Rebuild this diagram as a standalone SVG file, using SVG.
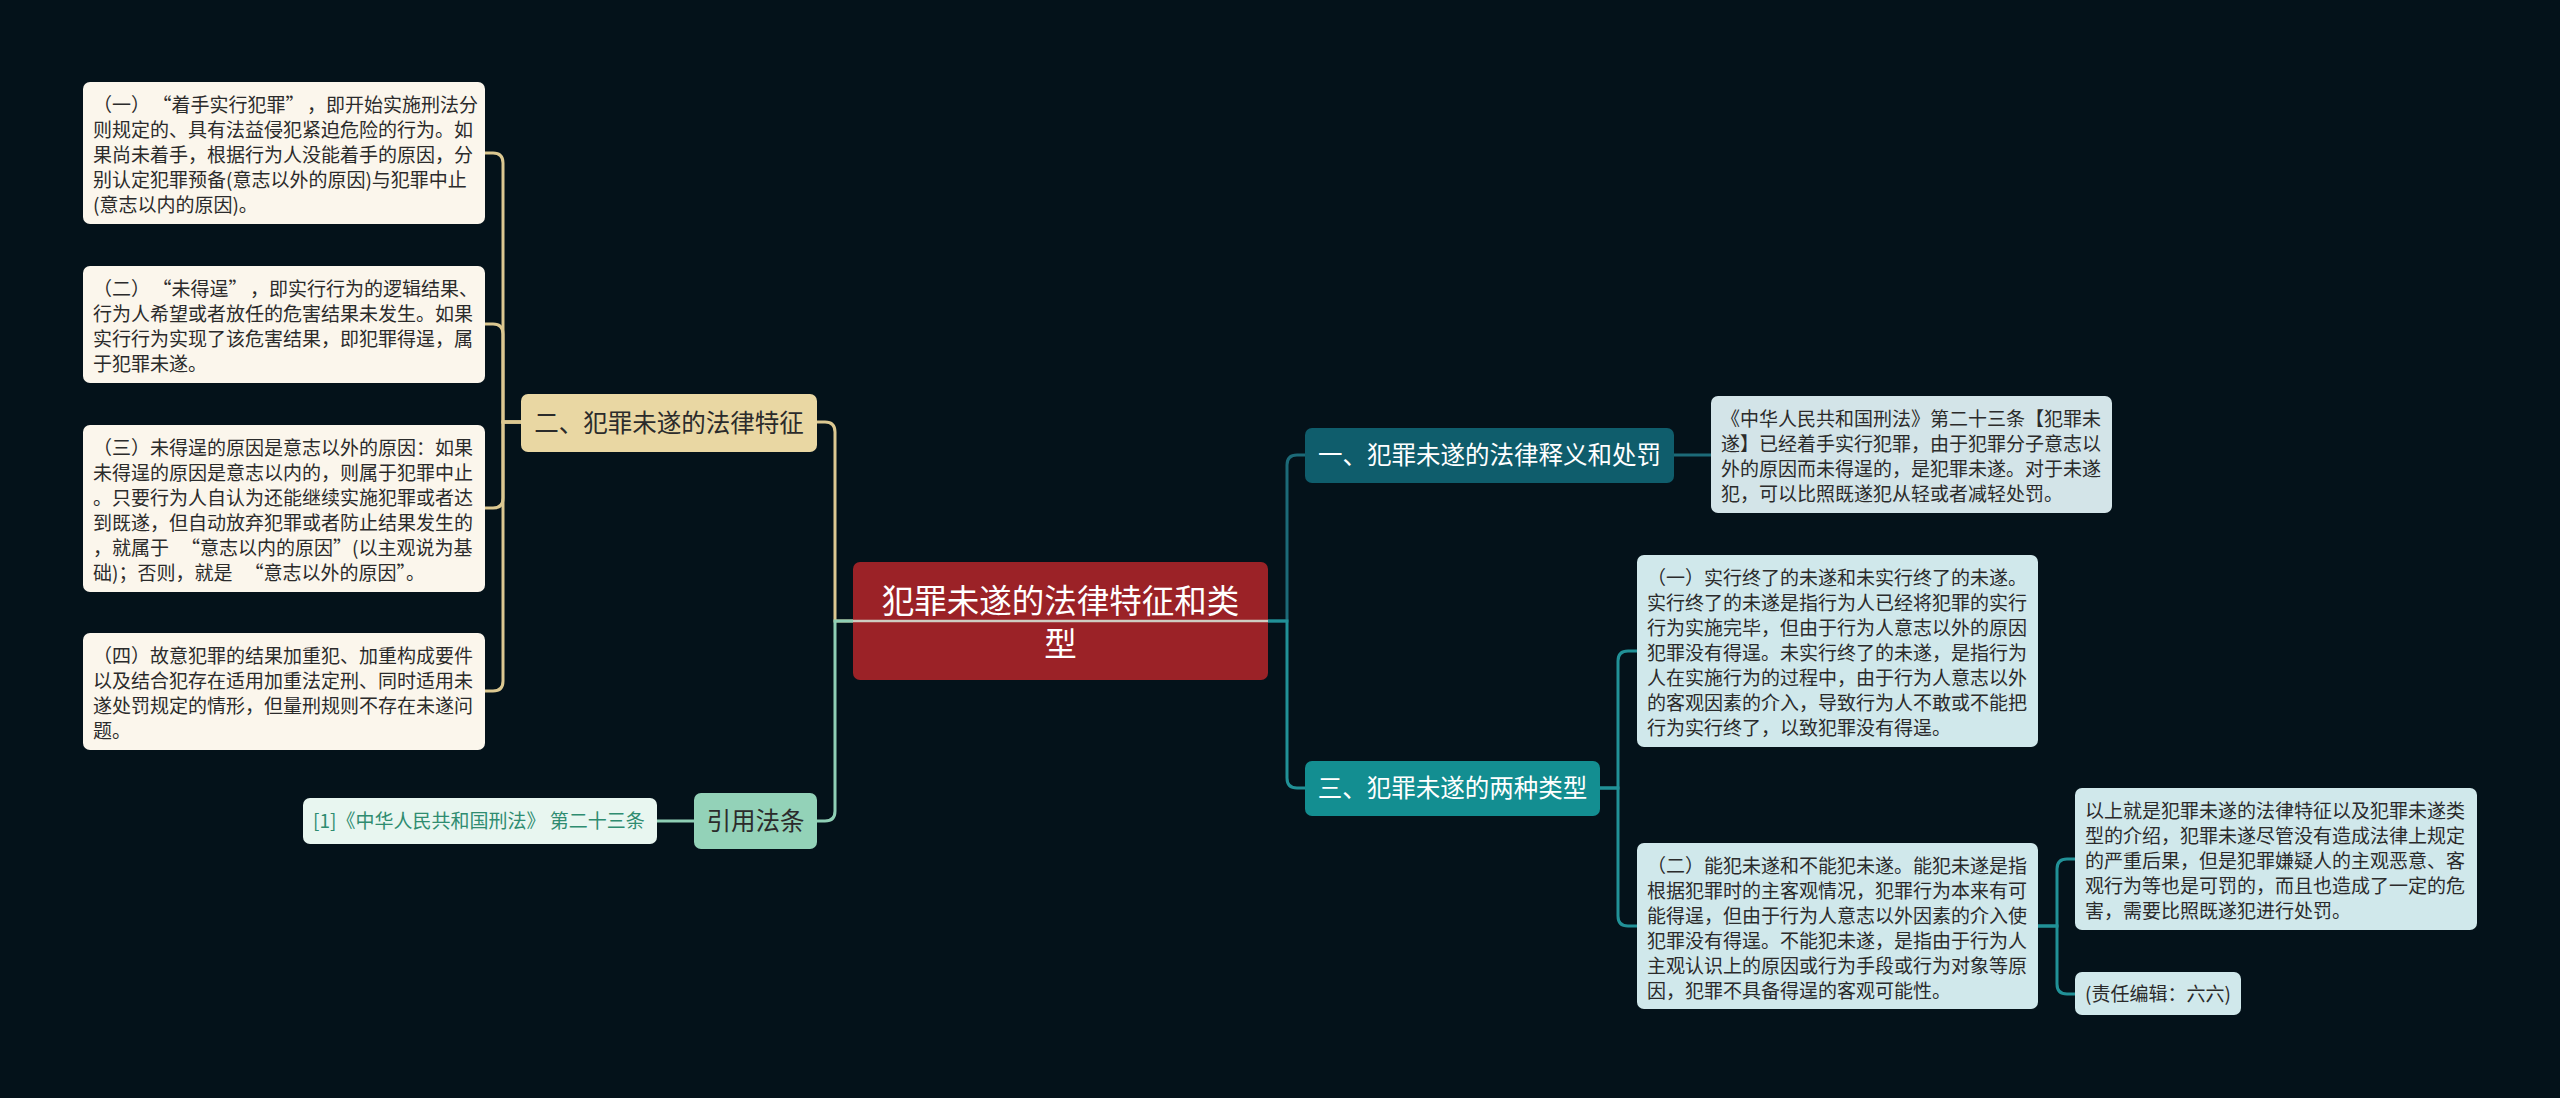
<svg xmlns="http://www.w3.org/2000/svg" width="2560" height="1098" viewBox="0 0 2560 1098">
<style>
text{font-family:"Noto Sans CJK SC","Noto Sans",sans-serif}
.lt{font-size:19px;fill:#2b2b2b}
.nt{font-size:24.5px;text-anchor:middle}
.cl{fill:#fbf6ec}
.cr{fill:#d0e8eb}
.c{fill:none;stroke-width:3;stroke-linecap:round}
.beige{stroke:#dcc891}
.mint{stroke:#8fcfb5}
.tdark{stroke:#1c6a78}
.teal{stroke:#219197}
</style>
<rect width="2560" height="1098" fill="#04121a"/>

<g id="connectors">
<path class="c beige" d="M521 422 H503 V163 Q503 153 493 153 H485"/>
<path class="c beige" d="M521 422 H503 V334 Q503 324 493 324 H485"/>
<path class="c beige" d="M521 422 H503 V498 Q503 508 493 508 H485"/>
<path class="c beige" d="M521 422 H503 V681 Q503 691 493 691 H485"/>
<path class="c beige" d="M853 621 H835 V432 Q835 422 825 422 H817"/>
<path class="c mint" d="M853 621 H835 V811 Q835 821 825 821 H817"/>
<path class="c mint" d="M694 821 H657"/>
<path class="c tdark" d="M1268 621 H1287 V465 Q1287 455 1297 455 H1305"/>
<path class="c teal" d="M1268 621 H1287 V778 Q1287 788 1297 788 H1305"/>
<path class="c tdark" d="M1674 455 H1711"/>
<path class="c teal" d="M1600 788 H1618 V661 Q1618 651 1628 651 H1637"/>
<path class="c teal" d="M1600 788 H1618 V916 Q1618 926 1628 926 H1637"/>
<path class="c teal" d="M2038 926 H2057 V869 Q2057 859 2067 859 H2075"/>
<path class="c teal" d="M2038 926 H2057 V984 Q2057 994 2067 994 H2075"/>
</g>

<g id="center">
<rect x="853" y="562" width="415" height="118" rx="7" fill="#9b2227"/>
<path d="M853 621 H1268" stroke="#cfcdc2" stroke-width="2.5"/>
<text x="1060.5" y="613" font-size="32.5" fill="#ffffff" text-anchor="middle">犯罪未遂的法律特征和类</text>
<text x="1060.5" y="656" font-size="32.5" fill="#ffffff" text-anchor="middle">型</text>
</g>

<g id="node-features">
<rect x="521" y="394" width="296" height="58" rx="7" fill="#e9d7a3"/>
<text class="nt" x="669" y="431.5" fill="#2b2b2b">二、犯罪未遂的法律特征</text>
</g>

<g id="leaf-f1">
<rect class="cl" x="83" y="82" width="402" height="142" rx="7"/>
<text class="lt" x="93" y="112"><tspan x="93">（一）<tspan dx="12">“</tspan>着手实行犯罪”<tspan dx="12">，</tspan>即开始实施刑法分</tspan><tspan x="93" dy="25">则规定的、具有法益侵犯紧迫危险的行为。如</tspan><tspan x="93" dy="25">果尚未着手，根据行为人没能着手的原因，分</tspan><tspan x="93" dy="25">别认定犯罪预备(意志以外的原因)与犯罪中止</tspan><tspan x="93" dy="25">(意志以内的原因)。</tspan></text>
</g>

<g id="leaf-f2">
<rect class="cl" x="83" y="266" width="402" height="117" rx="7"/>
<text class="lt" x="93" y="296"><tspan x="93">（二）<tspan dx="12">“</tspan>未得逞”<tspan dx="12">，</tspan>即实行行为的逻辑结果、</tspan><tspan x="93" dy="25">行为人希望或者放任的危害结果未发生。如果</tspan><tspan x="93" dy="25">实行行为实现了该危害结果，即犯罪得逞，属</tspan><tspan x="93" dy="25">于犯罪未遂。</tspan></text>
</g>

<g id="leaf-f3">
<rect class="cl" x="83" y="425" width="402" height="167" rx="7"/>
<text class="lt" x="93" y="455"><tspan x="93">（三）未得逞的原因是意志以外的原因：如果</tspan><tspan x="93" dy="25">未得逞的原因是意志以内的，则属于犯罪中止</tspan><tspan x="93" dy="25">。只要行为人自认为还能继续实施犯罪或者达</tspan><tspan x="93" dy="25">到既遂，但自动放弃犯罪或者防止结果发生的</tspan><tspan x="93" dy="25">，就属于<tspan dx="12">“</tspan>意志以内的原因”(以主观说为基</tspan><tspan x="93" dy="25">础)；否则，就是<tspan dx="12">“</tspan>意志以外的原因”。</tspan></text>
</g>

<g id="leaf-f4">
<rect class="cl" x="83" y="633" width="402" height="117" rx="7"/>
<text class="lt" x="93" y="663"><tspan x="93">（四）故意犯罪的结果加重犯、加重构成要件</tspan><tspan x="93" dy="25">以及结合犯存在适用加重法定刑、同时适用未</tspan><tspan x="93" dy="25">遂处罚规定的情形，但量刑规则不存在未遂问</tspan><tspan x="93" dy="25">题。</tspan></text>
</g>

<g id="node-cite">
<rect x="694" y="793" width="123" height="56" rx="7" fill="#93d2b8"/>
<text class="nt" x="755.5" y="829.5" fill="#2b2b2b">引用法条</text>
</g>

<g id="leaf-cite">
<rect x="303" y="798" width="354" height="46" rx="7" fill="#e8f6f0"/>
<text x="313" y="828" font-size="19" fill="#2f8c70">[1]《中华人民共和国刑法》 第二十三条</text>
</g>

<g id="node-def">
<rect x="1305" y="428" width="369" height="55" rx="7" fill="#0f5d6c"/>
<text class="nt" x="1489.5" y="464" fill="#ffffff">一、犯罪未遂的法律释义和处罚</text>
</g>

<g id="leaf-def">
<rect x="1711" y="396" width="401" height="117" rx="7" fill="#d3e4e8"/>
<text class="lt" x="1721" y="426"><tspan x="1721">《中华人民共和国刑法》第二十三条【犯罪未</tspan><tspan x="1721" dy="25">遂】已经着手实行犯罪，由于犯罪分子意志以</tspan><tspan x="1721" dy="25">外的原因而未得逞的，是犯罪未遂。对于未遂</tspan><tspan x="1721" dy="25">犯，可以比照既遂犯从轻或者减轻处罚。</tspan></text>
</g>

<g id="node-types">
<rect x="1305" y="761" width="295" height="55" rx="7" fill="#138e91"/>
<text class="nt" x="1452.5" y="797" fill="#ffffff">三、犯罪未遂的两种类型</text>
</g>

<g id="leaf-t1">
<rect class="cr" x="1637" y="555" width="401" height="192" rx="7"/>
<text class="lt" x="1647" y="585"><tspan x="1647">（一）实行终了的未遂和未实行终了的未遂。</tspan><tspan x="1647" dy="25">实行终了的未遂是指行为人已经将犯罪的实行</tspan><tspan x="1647" dy="25">行为实施完毕，但由于行为人意志以外的原因</tspan><tspan x="1647" dy="25">犯罪没有得逞。未实行终了的未遂，是指行为</tspan><tspan x="1647" dy="25">人在实施行为的过程中，由于行为人意志以外</tspan><tspan x="1647" dy="25">的客观因素的介入，导致行为人不敢或不能把</tspan><tspan x="1647" dy="25">行为实行终了，以致犯罪没有得逞。</tspan></text>
</g>

<g id="leaf-t2">
<rect class="cr" x="1637" y="843" width="401" height="166" rx="7"/>
<text class="lt" x="1647" y="873"><tspan x="1647">（二）能犯未遂和不能犯未遂。能犯未遂是指</tspan><tspan x="1647" dy="25">根据犯罪时的主客观情况，犯罪行为本来有可</tspan><tspan x="1647" dy="25">能得逞，但由于行为人意志以外因素的介入使</tspan><tspan x="1647" dy="25">犯罪没有得逞。不能犯未遂，是指由于行为人</tspan><tspan x="1647" dy="25">主观认识上的原因或行为手段或行为对象等原</tspan><tspan x="1647" dy="25">因，犯罪不具备得逞的客观可能性。</tspan></text>
</g>

<g id="leaf-summary">
<rect class="cr" x="2075" y="788" width="402" height="142" rx="7"/>
<text class="lt" x="2085" y="818"><tspan x="2085">以上就是犯罪未遂的法律特征以及犯罪未遂类</tspan><tspan x="2085" dy="25">型的介绍，犯罪未遂尽管没有造成法律上规定</tspan><tspan x="2085" dy="25">的严重后果，但是犯罪嫌疑人的主观恶意、客</tspan><tspan x="2085" dy="25">观行为等也是可罚的，而且也造成了一定的危</tspan><tspan x="2085" dy="25">害，需要比照既遂犯进行处罚。</tspan></text>
</g>

<g id="leaf-editor">
<rect class="cr" x="2075" y="972" width="166" height="43" rx="7"/>
<text class="lt" x="2085" y="1001">(责任编辑：六六)</text>
</g>
</svg>
